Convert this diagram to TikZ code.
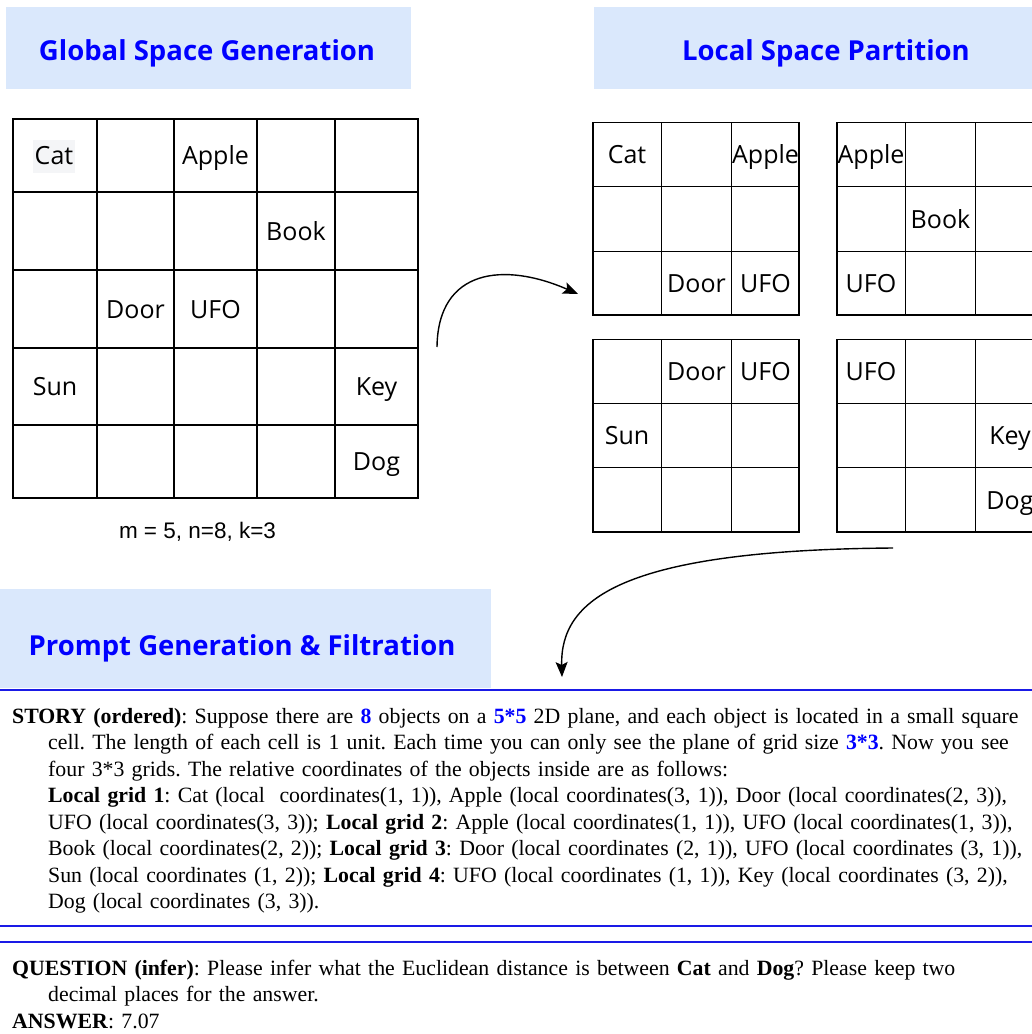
\documentclass[tikz,border=0pt]{standalone}
\usepackage{fontspec}
\setmainfont{Liberation Serif}
\newfontfamily\labelfont{Open Sans}
\newfontfamily\captionfont{Liberation Sans}
\usetikzlibrary{arrows.meta}

\definecolor{titlefill}{HTML}{DAE8FC}
\definecolor{titleblue}{HTML}{0000FF}
\definecolor{rulecol}{HTML}{1A1AE6}
\definecolor{catbg}{HTML}{F4F5F7}
\newcommand\bluebf[1]{\textcolor{titleblue}{\textbf{#1}}}

\begin{document}
\begin{tikzpicture}[x=1pt,y=-1pt,
  titletext/.style={font=\labelfont\bfseries\fontsize{27.5}{32}\selectfont, text=titleblue, inner sep=0pt, anchor=base},
  gridline/.style={line width=1.5pt, line cap=rect},
  cell/.style={font=\labelfont\fontsize{25}{30}\selectfont, inner sep=0pt, anchor=base},
  flow/.style={line width=1.4pt, -{Stealth[length=15pt,width=12pt,inset=3pt]}},
  bodytext/.style={anchor=base west, inner sep=0pt, text width=1100pt, font=\fontsize{21.8}{26.5}\selectfont},
  rule/.style={draw=rulecol}
]
\useasboundingbox (0,0) rectangle (1032,1034);

% section headers
\fill[titlefill] (6,7) rectangle (411,89);
\node[titletext] (t1) at (207,60) {Global Space Generation};
\fill[titlefill] (594,7) rectangle (1032,89);
\node[titletext] (t2) at (826,60) {Local Space Partition};
\fill[titlefill] (0,589) rectangle (491,688);
\node[titletext] (t3) at (242,655) {Prompt Generation \& Filtration};

% global 5x5 grid
\node[font=\labelfont\fontsize{25}{30}\selectfont, fill=catbg, minimum width=42pt, minimum height=33pt, inner sep=0pt] (gcat) at (54,156) {Cat};
\node[cell] (gapple) at (215.5,164.5) {Apple};
\node[cell] (gbook) at (296,240) {Book};
\node[cell] (gdoor) at (135.5,318) {Door};
\node[cell] (gufo) at (215.5,318) {UFO};
\node[cell] (gsun) at (55,395.5) {Sun};
\node[cell] (gkey) at (376.5,395.5) {Key};
\node[cell] (gdog) at (376.5,470.5) {Dog};
\foreach \x in {13,97,174,257,335,418} \draw[gridline] (\x,119) -- (\x,498);
\foreach \y in {119,192,270,348,425,498} \draw[gridline] (13,\y) -- (418,\y);

\node[font=\captionfont\fontsize{22.5}{26}\selectfont, anchor=base, inner sep=0pt] (params) at (197.5,538) {m = 5, n=8, k=3};

% local 3x3 grids
\node[cell] (l1cat) at (627,163.5) {Cat};
\node[cell] (l1apple) at (765.5,163.5) {Apple};
\node[cell] (l1door) at (696.5,292) {Door};
\node[cell] (l1ufo) at (765.5,292) {UFO};
\node[cell] (l2apple) at (871,163.5) {Apple};
\node[cell] (l2book) at (940.5,228) {Book};
\node[cell] (l2ufo) at (871,292) {UFO};
\node[cell] (l3door) at (696.5,380.5) {Door};
\node[cell] (l3ufo) at (765.5,380.5) {UFO};
\node[cell] (l3sun) at (627,444.5) {Sun};
\node[cell] (l4ufo) at (871,380.5) {UFO};
\node[cell] (l4key) at (1010,444.5) {Key};
\node[cell] (l4dog) at (1010,509) {Dog};
\foreach \xa/\xb/\xc/\xd in {593/661.5/731.5/799, 837/905.5/975.5/1044} {
  \foreach \ya/\yb/\yc/\yd in {122.5/186.5/251.5/315, 339.5/403.5/467.5/532} {
    \foreach \x in {\xa,\xb,\xc,\xd} \draw[gridline] (\x,\ya) -- (\x,\yd);
    \foreach \y in {\ya,\yb,\yc,\yd} \draw[gridline] (\xa,\y) -- (\xd,\y);
  }
}

% flow arrows
\coordinate (a1s) at (437,347);
\coordinate (a1e) at (578,294);
\draw[flow] (a1s) .. controls (438,268) and (505,262) .. (a1e);
\coordinate (a2s) at (893,548);
\coordinate (a2e) at (562,677);
\draw[flow] (a2s) .. controls (620,550) and (560,600) .. (a2e);

% separators
\draw[rule, line width=2pt] (0,690) -- (1032,690);
\draw[rule, line width=2.5pt] (0,926) -- (1032,926);
\draw[rule, line width=1.5pt] (0,942) -- (1032,942);

% prompt text
\node[bodytext] (story) at (12,723) {\frenchspacing\hangindent=36pt\hangafter=1 \textbf{STORY (ordered)}: Suppose there are \bluebf{8} objects on a \bluebf{5*5} 2D plane, and each object is located in a small square\newline
cell. The length of each cell is 1 unit. Each time you can only see the plane of grid size \bluebf{3*3}. Now you see\newline
four 3*3 grids. The relative coordinates of the objects inside are as follows:\newline
\textbf{Local grid 1}: Cat (local~ coordinates(1, 1)), Apple (local coordinates(3, 1)), Door (local coordinates(2, 3)),\newline
UFO (local coordinates(3, 3)); \textbf{Local grid 2}: Apple (local coordinates(1, 1)), UFO (local coordinates(1, 3)),\newline
Book (local coordinates(2, 2)); \textbf{Local grid 3}: Door (local coordinates (2, 1)), UFO (local coordinates (3, 1)),\newline
Sun (local coordinates (1, 2)); \textbf{Local grid 4}: UFO (local coordinates (1, 1)), Key (local coordinates (3, 2)),\newline
Dog (local coordinates (3, 3)).\par};

\node[bodytext] (question) at (12,975) {\frenchspacing\hangindent=36pt\hangafter=1 \textbf{QUESTION (infer)}: Please infer what the Euclidean distance is between \textbf{Cat} and \textbf{Dog}? Please keep two\newline
decimal places for the answer.\par
\textbf{ANSWER}: 7.07\par};
\end{tikzpicture}
\end{document}
